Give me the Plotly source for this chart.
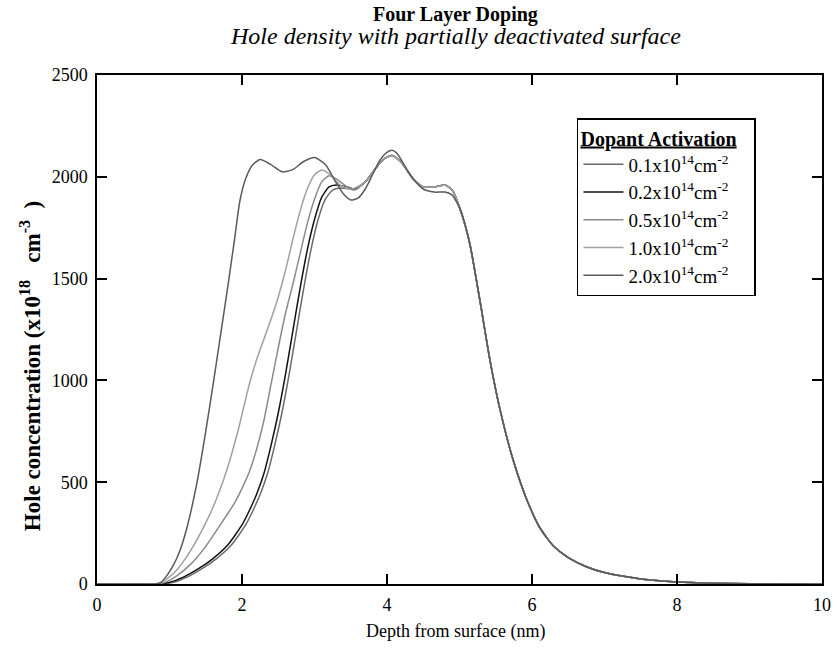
import plotly.graph_objects as go

# ---------------- data ----------------
series_names = ["0.1x10<sup>14</sup>cm<sup>-2</sup>",
                "0.2x10<sup>14</sup>cm<sup>-2</sup>",
                "0.5x10<sup>14</sup>cm<sup>-2</sup>",
                "1.0x10<sup>14</sup>cm<sup>-2</sup>",
                "2.0x10<sup>14</sup>cm<sup>-2</sup>"]

# shared tail (all curves coincide here)
tail_x = [5.01, 5.14, 5.28, 5.42, 5.56, 5.74, 5.93, 6.11, 6.3, 6.5, 6.75, 7.0, 7.5, 8.0, 8.5, 9.0, 10.0]
tail_y = [1840, 1675, 1395, 1100, 855, 609, 413, 275, 185, 130, 85, 56, 25, 10, 4, 1.5, 0]

# middle part shared by the four lower-activation curves
mid_x = [3.7, 3.85, 3.97, 4.07, 4.2, 4.36, 4.5, 4.65, 4.8, 4.9]
mid_y = [1975, 2045, 2090, 2105, 2070, 1990, 1950, 1950, 1960, 1935]

d01_x = [0, 0.88, 1.05, 1.25, 1.45, 1.65, 1.85, 2.05, 2.15, 2.25, 2.35, 2.45, 2.55, 2.65, 2.75,
         2.85, 2.95, 3.05, 3.15, 3.25, 3.35, 3.45, 3.55]
d01_y = [0, 0, 8, 35, 75, 125, 190, 290, 360, 440, 540, 680, 840, 1030, 1240,
         1450, 1640, 1790, 1890, 1935, 1945, 1942, 1938]

d02_x = [0, 0.85, 1.0, 1.2, 1.4, 1.6, 1.8, 2.0, 2.1, 2.2, 2.3, 2.4, 2.5, 2.6, 2.7,
         2.8, 2.9, 3.0, 3.1, 3.2, 3.3, 3.45, 3.55]
d02_y = [0, 0, 8, 35, 75, 125, 190, 290, 360, 440, 540, 680, 840, 1030, 1240,
         1450, 1640, 1790, 1900, 1950, 1960, 1950, 1940]

d05_x = [0, 0.82, 0.95, 1.1, 1.3, 1.5, 1.7, 1.9, 2.0, 2.1, 2.2, 2.3, 2.4, 2.5, 2.6,
         2.7, 2.8, 2.9, 3.0, 3.1, 3.2, 3.3, 3.45, 3.55]
d05_y = [0, 0, 10, 40, 100, 185, 290, 400, 470, 550, 660, 800, 980, 1160, 1330,
         1470, 1620, 1770, 1890, 1975, 2005, 1990, 1950, 1935]

d10_x = [0, 0.8, 0.9, 1.05, 1.2, 1.35, 1.5, 1.65, 1.8, 1.95, 2.1, 2.2, 2.3, 2.4, 2.5,
         2.6, 2.7, 2.8, 2.9, 3.0, 3.1, 3.2, 3.35, 3.5]
d10_y = [0, 0, 12, 50, 115, 200, 300, 420, 570, 760, 980, 1100, 1200, 1300, 1410,
         1540, 1690, 1830, 1940, 2010, 2033, 2015, 1960, 1938]

d20_x = [0, 0.8, 0.87, 0.95, 1.05, 1.15, 1.25, 1.38, 1.5, 1.61, 1.72, 1.82, 1.9, 1.97, 2.05,
         2.15, 2.25, 2.4, 2.55, 2.7, 2.85, 3.0, 3.15, 3.3, 3.4, 3.5, 3.6, 3.7, 3.8, 3.9,
         4.0, 4.07, 4.15, 4.25, 4.36, 4.5, 4.65, 4.8, 4.9]
d20_y = [0, 0, 5, 35, 90, 170, 290, 500, 750, 1000, 1260, 1500, 1700, 1880, 1990,
         2060, 2085, 2060, 2025, 2035, 2075, 2095, 2060, 1970, 1915, 1886, 1895, 1940, 2010, 2080,
         2120, 2130, 2110, 2050, 1990, 1940, 1925, 1925, 1910]

series_x = [d01_x + mid_x + tail_x, d02_x + mid_x + tail_x, d05_x + mid_x + tail_x,
            d10_x + mid_x + tail_x, d20_x + tail_x]
series_y = [d01_y + mid_y + tail_y, d02_y + mid_y + tail_y, d05_y + mid_y + tail_y,
            d10_y + mid_y + tail_y, d20_y + tail_y]

colors = ["#6a6a6a", "#111111", "#8a8a8a", "#a0a0a0", "#5a5a5a"]

x_ticks = [0, 2, 4, 6, 8, 10]
y_ticks = [0, 500, 1000, 1500, 2000, 2500]

FONT = "Liberation Serif, Times New Roman, serif"

fig = go.Figure()
for name, xs, ys, c in zip(series_names, series_x, series_y, colors):
    fig.add_trace(go.Scatter(x=xs, y=ys, mode="lines", name=name,
                             line=dict(color=c, width=1.5, shape="spline", smoothing=0.6)))

axis_common = dict(showline=True, linecolor="black", linewidth=1.5, mirror="ticks",
                   ticks="inside", ticklen=10, tickwidth=1.5, tickcolor="black",
                   showgrid=False, zeroline=False, automargin=False,
                   tickfont=dict(family=FONT, size=18, color="black"))

fig.update_layout(
    width=837, height=648,
    margin=dict(l=97, r=15, t=75, b=64),
    paper_bgcolor="white", plot_bgcolor="white",
    font=dict(family=FONT, color="black"),
    xaxis=dict(range=[0, 10], tickvals=x_ticks, ticktext=[str(v) for v in x_ticks],
               ticklabelstandoff=4, **axis_common),
    yaxis=dict(range=[0, 2500], tickvals=y_ticks, ticktext=[str(v) for v in y_ticks],
               ticklabelstandoff=4, **axis_common),
    legend=dict(x=0.662, y=0.9155, xanchor="left", yanchor="top",
                bgcolor="white", bordercolor="black", borderwidth=1.5,
                font=dict(family=FONT, size=19, color="black"),
                title=dict(text="<b><u>Dopant Activation</u></b>&nbsp;&nbsp;&nbsp;",
                           font=dict(family=FONT, size=20)),
                itemwidth=40, tracegroupgap=0),
    showlegend=True,
    annotations=[
        dict(text="<b>Four Layer Doping</b>", xref="paper", yref="paper", x=0.495, y=1.1198,
             xanchor="center", yanchor="middle", showarrow=False,
             font=dict(family=FONT, size=20, color="black")),
        dict(text="<i>Hole density with partially deactivated surface</i>", xref="paper", yref="paper",
             x=0.495, y=1.0766, xanchor="center", yanchor="middle", showarrow=False,
             font=dict(family=FONT, size=24, color="black")),
        dict(text="Depth from surface (nm)", xref="paper", yref="paper", x=0.495, y=-0.0943,
             xanchor="center", yanchor="middle", showarrow=False,
             font=dict(family=FONT, size=18, color="black")),
        dict(text="<b>Hole concentration (x10<sup>18</sup>&nbsp;&nbsp;&nbsp;"
                  "cm<sup>-3</sup>&nbsp;&nbsp;)</b>",
             xref="paper", yref="paper", x=(30 - 97) / 725, y=0.428, textangle=-90,
             xanchor="center", yanchor="middle", showarrow=False,
             font=dict(family=FONT, size=23, color="black")),
    ],
)

# remove the browser's default 8px body margin so the figure fills the window exactly
fig.write_html("out.html", config={"displayModeBar": False},
               post_script="document.body.style.margin='0';")
